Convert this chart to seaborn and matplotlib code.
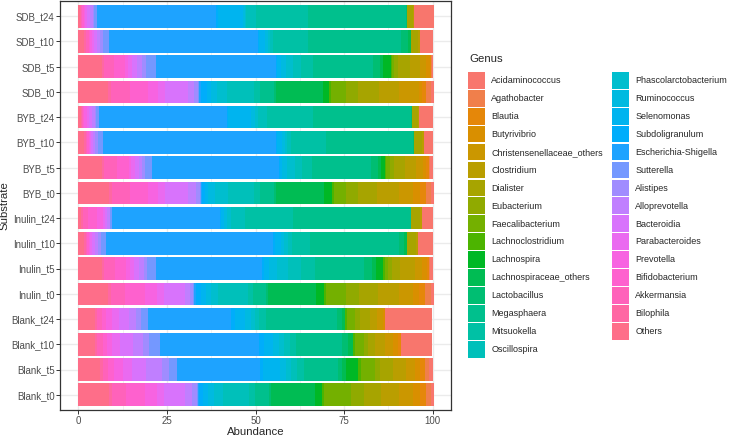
import numpy as np
import pandas as pd
import matplotlib
matplotlib.use('Agg')
import matplotlib.pyplot as plt
import seaborn as sns
from matplotlib.patches import Patch

# Genus levels (legend order, ggplot stacks the first level farthest from 0)
genus = ['Acidaminococcus', 'Agathobacter', 'Blautia', 'Butyrivibrio',
         'Christensenellaceae_others', 'Clostridium', 'Dialister', 'Eubacterium',
         'Faecalibacterium', 'Lachnoclostridium', 'Lachnospira',
         'Lachnospiraceae_others', 'Lactobacillus', 'Megasphaera', 'Mitsuokella',
         'Oscillospira', 'Phascolarctobacterium', 'Ruminococcus', 'Selenomonas',
         'Subdoligranulum', 'Escherichia-Shigella', 'Sutterella', 'Alistipes',
         'Alloprevotella', 'Bacteroidia', 'Parabacteroides', 'Prevotella',
         'Bifidobacterium', 'Akkermansia', 'Bilophila', 'Others']

substrates = ['Blank_t0', 'Blank_t5', 'Blank_t10', 'Blank_t24',
              'Inulin_t0', 'Inulin_t5', 'Inulin_t10', 'Inulin_t24',
              'BYB_t0', 'BYB_t5', 'BYB_t10', 'BYB_t24',
              'SDB_t0', 'SDB_t5', 'SDB_t10', 'SDB_t24']

# abundance (%) per substrate, values in genus order above
blank_t0 = [0.8, 1.5, 1.8, 2.0, 3.8, 5.2, 4.7, 3.8, 7.4, 0.6, 1.9, 12.6, 0.5, 4.0, 1.6,
            7.5, 2.4, 1.8, 1.3, 1.0, 0.5, 0.3, 1.3, 2.0, 6.0, 2.0, 3.3, 5.3, 4.0, 0.7, 8.8]
blank_t5 = [1.3, 1.0, 1.3, 1.5, 2.6, 3.5, 3.7, 1.5, 4.0, 0.7, 3.4, 1.2, 1.0, 9.7, 2.0,
            1.6, 1.6, 1.5, 4.8, 1.0, 23.3, 2.4, 1.8, 4.5, 4.0, 2.7, 2.5, 1.5, 1.5, 0.8, 6.2]
blank_t10 = [8.8, 0.0, 1.0, 1.3, 2.4, 2.8, 2.0, 1.0, 2.5, 0.6, 0.0, 1.4, 1.6, 13.0, 1.8,
             1.6, 1.6, 1.5, 2.7, 1.2, 28.0, 3.0, 1.7, 3.0, 3.5, 2.3, 1.5, 1.2, 1.5, 0.6, 4.8]
blank_t24 = [13.5, 0.0, 0.0, 0.5, 1.5, 2.2, 2.8, 1.4, 2.3, 0.5, 0.0, 0.8, 1.5, 19.8, 2.0,
             1.2, 1.3, 1.5, 3.0, 1.0, 23.5, 2.0, 1.2, 2.0, 3.0, 2.0, 1.5, 1.2, 1.3, 0.6, 4.8]
inulin_t0 = [0.8, 1.9, 1.5, 1.8, 3.8, 6.1, 5.2, 3.8, 5.5, 0.6, 2.3, 13.6, 0.5, 3.7, 1.5,
             8.5, 1.8, 1.5, 1.3, 1.5, 0.5, 0.3, 1.0, 1.3, 6.0, 2.0, 3.4, 5.5, 4.0, 0.7, 8.5]
inulin_t5 = [0.8, 0.4, 0.5, 1.3, 2.0, 4.2, 2.3, 1.0, 1.1, 0.5, 2.0, 1.0, 2.4, 13.8, 4.0,
             3.5, 3.0, 2.4, 1.4, 0.5, 29.9, 2.5, 1.0, 1.3, 1.5, 1.2, 0.9, 3.1, 3.2, 0.6, 6.7]
inulin_t10 = [4.1, 0.0, 0.0, 0.0, 0.0, 0.7, 2.6, 0.0, 0.0, 0.0, 0.0, 0.7, 1.4, 25.2, 5.0,
              1.2, 1.0, 0.8, 1.8, 0.5, 47.1, 1.5, 0.9, 0.7, 0.8, 0.6, 0.4, 0.4, 0.5, 0.4, 1.7]
inulin_t24 = [3.2, 0.0, 0.0, 0.0, 0.0, 0.5, 2.6, 0.0, 0.0, 0.0, 0.0, 0.0, 0.1, 33.1, 13.6,
              4.1, 1.0, 0.8, 0.8, 0.3, 30.5, 0.5, 0.2, 0.6, 0.7, 0.6, 1.7, 2.5, 1.5, 0.5, 0.75]
byb_t0 = [0.8, 1.5, 1.8, 2.0, 3.8, 6.1, 5.6, 3.3, 3.5, 0.5, 2.1, 13.6, 0.5, 4.1, 1.5,
          7.5, 3.6, 2.0, 0.8, 0.8, 0.3, 0.3, 1.3, 2.0, 6.5, 2.0, 3.0, 5.0, 5.0, 0.8, 8.8]
byb_t5 = [0.7, 0.3, 0.8, 1.0, 1.8, 3.3, 3.0, 1.2, 1.0, 0.4, 1.2, 0.8, 1.8, 16.9, 2.8,
          2.0, 2.0, 1.6, 0.6, 0.3, 35.7, 2.0, 0.8, 1.0, 1.1, 1.0, 0.7, 3.4, 3.5, 0.6, 6.7]
byb_t10 = [2.5, 0.0, 0.0, 0.0, 0.0, 0.6, 2.2, 0.0, 0.0, 0.0, 0.0, 0.0, 0.2, 24.7, 9.9,
           0.9, 0.8, 0.6, 1.5, 0.4, 48.6, 1.5, 0.8, 0.6, 0.6, 0.4, 0.3, 0.4, 0.4, 0.4, 1.7]
byb_t24 = [3.8, 0.0, 0.0, 0.0, 0.0, 0.3, 1.8, 0.0, 0.0, 0.0, 0.0, 0.0, 0.1, 27.7, 13.0,
           2.6, 0.8, 1.0, 6.5, 0.5, 35.9, 0.9, 0.4, 0.7, 0.8, 0.7, 0.8, 0.3, 0.3, 0.3, 0.75]
sdb_t0 = [0.8, 1.5, 0.9, 1.0, 5.6, 5.6, 6.1, 3.3, 4.2, 0.5, 1.9, 13.1, 0.5, 4.1, 1.5,
          7.8, 2.9, 1.5, 1.3, 1.5, 0.5, 0.3, 1.2, 1.6, 6.5, 2.0, 3.0, 5.0, 5.3, 0.8, 8.5]
sdb_t5 = [0.4, 0.3, 0.3, 1.0, 1.8, 2.8, 3.5, 1.0, 0.5, 0.4, 2.2, 0.8, 2.2, 16.7, 3.5,
          2.1, 2.0, 1.5, 1.0, 0.4, 33.8, 2.9, 1.0, 1.5, 1.5, 1.2, 0.8, 2.9, 3.0, 0.5, 6.7]
sdb_t10 = [3.7, 0.0, 0.0, 0.0, 0.0, 0.6, 2.0, 0.0, 0.0, 0.0, 0.0, 1.0, 2.0, 26.1, 10.0,
           0.7, 0.7, 0.6, 1.7, 0.5, 42.0, 1.5, 1.0, 0.8, 0.8, 0.6, 0.5, 0.5, 0.7, 0.5, 1.7]
sdb_t24 = [5.7, 0.0, 0.0, 0.0, 0.0, 0.3, 1.6, 0.0, 0.0, 0.0, 0.0, 0.1, 0.2, 27.6, 14.6,
           3.0, 0.3, 0.5, 7.0, 0.5, 33.6, 0.8, 0.3, 0.8, 1.0, 0.5, 0.4, 0.4, 0.3, 0.4, 0.4]

values = [blank_t0, blank_t5, blank_t10, blank_t24,
          inulin_t0, inulin_t5, inulin_t10, inulin_t24,
          byb_t0, byb_t5, byb_t10, byb_t24,
          sdb_t0, sdb_t5, sdb_t10, sdb_t24]

rows = []
for sub, vals in zip(substrates, values):
    for g, v in zip(genus, vals):
        rows.append((sub, g, v))
df = pd.DataFrame(rows, columns=['Substrate', 'Genus', 'Abundance'])

# stack from the left: 'Others' first ... 'Acidaminococcus' last (ggplot order)
df['level'] = df['Genus'].map({g: i for i, g in enumerate(genus)})
df = df.sort_values(['Substrate', 'level'], ascending=[True, False])
df['Cum'] = df.groupby('Substrate')['Abundance'].cumsum()


# ggplot2 default hue palette (HCL, c=100, l=65)
def hcl_hex(h, c=100.0, l=65.0):
    hr = np.deg2rad(h)
    u, v = c * np.cos(hr), c * np.sin(hr)
    xn, yn, zn = 95.047, 100.0, 108.883
    un = 4 * xn / (xn + 15 * yn + 3 * zn)
    vn = 9 * yn / (xn + 15 * yn + 3 * zn)
    y = yn * ((l + 16) / 116) ** 3
    up = u / (13 * l) + un
    vp = v / (13 * l) + vn
    x = y * 9 * up / (4 * vp)
    z = y * (12 - 3 * up - 20 * vp) / (4 * vp)
    x, y, z = x / 100, y / 100, z / 100
    rgb = np.array([3.2404542 * x - 1.5371385 * y - 0.4985314 * z,
                    -0.9692660 * x + 1.8760108 * y + 0.0415560 * z,
                    0.0556434 * x - 0.2040259 * y + 1.0572252 * z])
    rgb = np.where(rgb <= 0.0031308, 12.92 * rgb, 1.055 * np.clip(rgb, 0, None) ** (1 / 2.4) - 0.055)
    rgb = np.clip(rgb, 0, 1)
    return matplotlib.colors.to_hex(rgb)


hues = np.linspace(15, 375, len(genus) + 1)[:-1]
palette = [hcl_hex(h) for h in hues]

sns.set_style('white')
plt.rcParams['font.family'] = ['Liberation Sans', 'DejaVu Sans']

fig = plt.figure(figsize=(7.32, 4.36), dpi=100)
ax = fig.add_axes([60.5 / 732, 1 - 410 / 436, 390 / 732, 409 / 436])

# overlapping cumulative bars = stacked bars without seams
sns.barplot(data=df, x='Cum', y='Substrate', hue='Genus', hue_order=genus,
            order=substrates[::-1], palette=palette, dodge=False, width=0.9,
            saturation=1, linewidth=0, errorbar=None, legend=False, ax=ax)
# longer (cumulative) bars go underneath
for p in ax.patches:
    p.set_zorder(1 + 1 / (1 + p.get_width()))

ax.set_xlim(-5, 105)
ax.set_ylim(len(substrates) - 0.4, -0.6)
ax.set_xticks([0, 25, 50, 75, 100])
ax.set_xticks([12.5, 37.5, 62.5, 87.5], minor=True)
ax.set_axisbelow(True)
ax.grid(True, which='major', color='#EBEBEB', lw=1.0)
ax.grid(True, which='minor', axis='x', color='#EBEBEB', lw=0.5)
for s in ax.spines.values():
    s.set_color('#333333')
    s.set_linewidth(0.9)
ax.tick_params(axis='both', which='major', length=2.7, width=0.7, color='#333333',
               labelsize=7, labelcolor='#4D4D4D', pad=1.5, left=True, bottom=True)
ax.tick_params(axis='both', which='minor', length=0)
ax.set_xlabel('Abundance', fontsize=8.2, labelpad=0.5)
ax.set_ylabel('Substrate', fontsize=8.2, labelpad=1.5)

fig.text(469 / 732, 1 - 59 / 436, 'Genus', fontsize=8.2, ha='left', va='center')
handles = [Patch(facecolor=c, edgecolor='none', label=g) for g, c in zip(genus, palette)]
leg = fig.legend(handles=handles, loc='upper left',
                 bbox_to_anchor=(468 / 732, 1 - 72 / 436), ncol=2, frameon=False,
                 fontsize=6.5, handlelength=1.88, handleheight=2.47,
                 labelspacing=0.135, handletextpad=0.7, columnspacing=1.0,
                 borderpad=0, borderaxespad=0)

fig.savefig('out.png', dpi=100)
